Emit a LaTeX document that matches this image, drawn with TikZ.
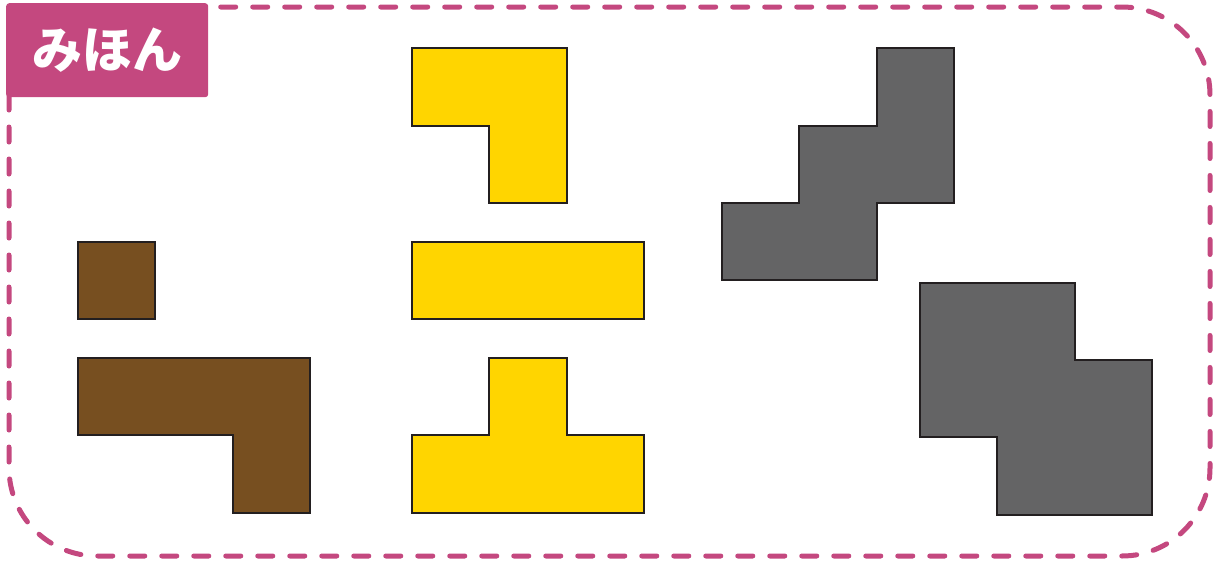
\documentclass[tikz,border=0pt]{standalone}
\usepackage{fontspec}
\newfontfamily\cjk{Noto Sans CJK JP}
\definecolor{pinkc}{HTML}{C4487F}
\definecolor{brownc}{HTML}{774F20}
\definecolor{yellowc}{HTML}{FFD500}
\definecolor{grayc}{HTML}{646465}
\definecolor{edgec}{HTML}{231F20}
\begin{document}
\begin{tikzpicture}[x=1pt,y=-1pt,
  piece/.style={draw=edgec,line width=2pt,line join=miter},
  bpiece/.style={piece,fill=brownc},
  ypiece/.style={piece,fill=yellowc},
  gpiece/.style={piece,fill=grayc},
  frame/.style={draw=pinkc,line width=5pt,line cap=round,dash pattern=on 15pt off 17pt,rounded corners=88pt},
  tag/.style={fill=pinkc,rounded corners=3pt,minimum width=202pt,minimum height=94pt,inner sep=0pt,text=white,font=\cjk\bfseries\fontsize{50}{50}\selectfont}]
\useasboundingbox (0,0) rectangle (1216,562);
\draw[frame] (9,7) rectangle (1210,556);
\node[tag,anchor=north west] (label) at (6,3) {みほん};
% brown
\draw[bpiece] (78,242) rectangle (155,319);
\draw[bpiece] (78,358) -- (310,358) -- (310,513) -- (233,513) -- (233,435) -- (78,435) -- cycle;
% yellow
\draw[ypiece] (412,48) -- (567,48) -- (567,203) -- (489,203) -- (489,126) -- (412,126) -- cycle;
\draw[ypiece] (412,242) rectangle (644,319);
\draw[ypiece] (489,358) -- (567,358) -- (567,435) -- (644,435) -- (644,513) -- (412,513) -- (412,435) -- (489,435) -- cycle;
% gray
\draw[gpiece] (877,48) -- (954,48) -- (954,203) -- (877,203) -- (877,280) -- (722,280) -- (722,203) -- (799,203) -- (799,126) -- (877,126) -- cycle;
\draw[gpiece] (920,283) -- (1075,283) -- (1075,360) -- (1152,360) -- (1152,515) -- (997,515) -- (997,437) -- (920,437) -- cycle;
\end{tikzpicture}
\end{document}
